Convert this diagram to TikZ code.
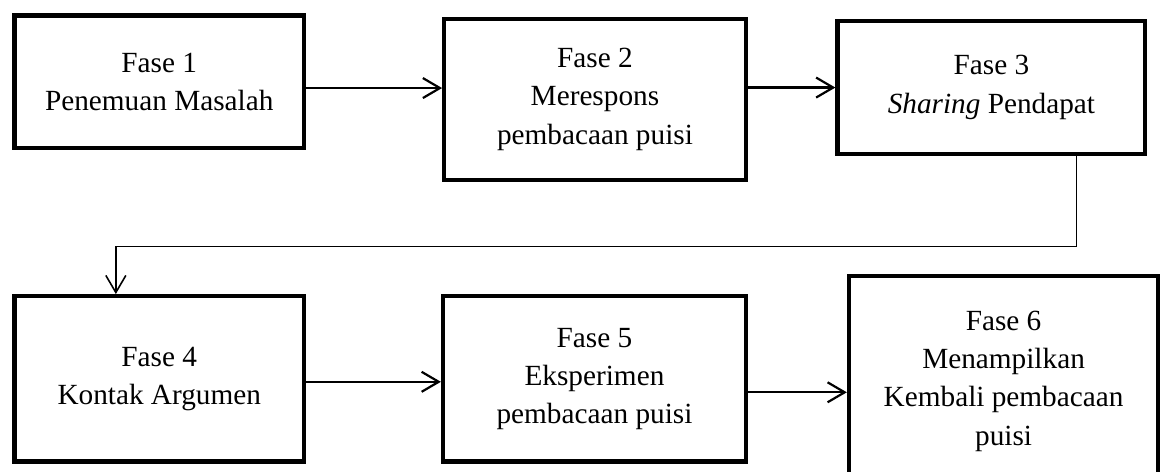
\documentclass[tikz,border=0pt]{standalone}
\usepackage{fontspec}
\setmainfont{Liberation Serif}
\usepackage{tikz}
\usetikzlibrary{arrows.meta,positioning}
\tikzset{
  phase/.style   ={draw=black,line width=1.75pt,align=center,inner sep=4pt,
                   font=\fontsize{12pt}{15.7pt}\selectfont},
  flow/.style    ={-{Straight Barb[length=7pt,width=8.2pt]},line width=0.9pt,draw=black},
  backflow/.style={-{Straight Barb[length=7pt,width=8.2pt]},line width=0.65pt,draw=black}
}

\begin{document}
\begin{tikzpicture}[node distance=2mm]
  \useasboundingbox (-65.3pt,33.5pt) rectangle (412.8pt,-160pt);
  \node[phase,minimum width=118.6pt,minimum height=54.4pt] (f1) {Fase 1\\Penemuan Masalah};
  \node[phase,minimum width=123.6pt,minimum height=66pt,right=55.8pt of f1,yshift=-7.2pt] (f2) {Fase 2\\Merespons\\pembacaan puisi};
  \node[phase,minimum width=126.2pt,minimum height=54.3pt,right=35.9pt of f2,yshift=4.8pt] (f3) {Fase 3\\\textit{Sharing} Pendapat};
  \node[phase,minimum width=118.6pt,minimum height=67.8pt,below=59pt of f1] (f4) {Fase 4\\Kontak Argumen};
  \node[phase,minimum width=124.2pt,minimum height=67.7pt,right=55.3pt of f4] (f5) {Fase 5\\Eksperimen\\pembacaan puisi};
  \node[phase,minimum width=126.8pt,minimum height=86.1pt,right=40.5pt of f5,yshift=-0.9pt] (f6) {Fase 6\\Menampilkan\\Kembali pembacaan\\puisi};
  \draw[flow] ([yshift=-2.6pt]f1.east) coordinate (a12) -- (a12 -| f2.west);
  \draw[flow] (f3.west -| f2.east) -- (f3.west);
  \draw[backflow] ([xshift=34.9pt]f3.south) -- ++(0,-37.2pt) -| ([xshift=-17.8pt]f4.north);
  \draw[flow] ([yshift=-1.2pt]f4.east) coordinate (a45) -- (a45 -| f5.west);
  \draw[flow] ([yshift=-5.5pt]f5.east) coordinate (a56) -- (a56 -| f6.west);
\end{tikzpicture}
\end{document}
